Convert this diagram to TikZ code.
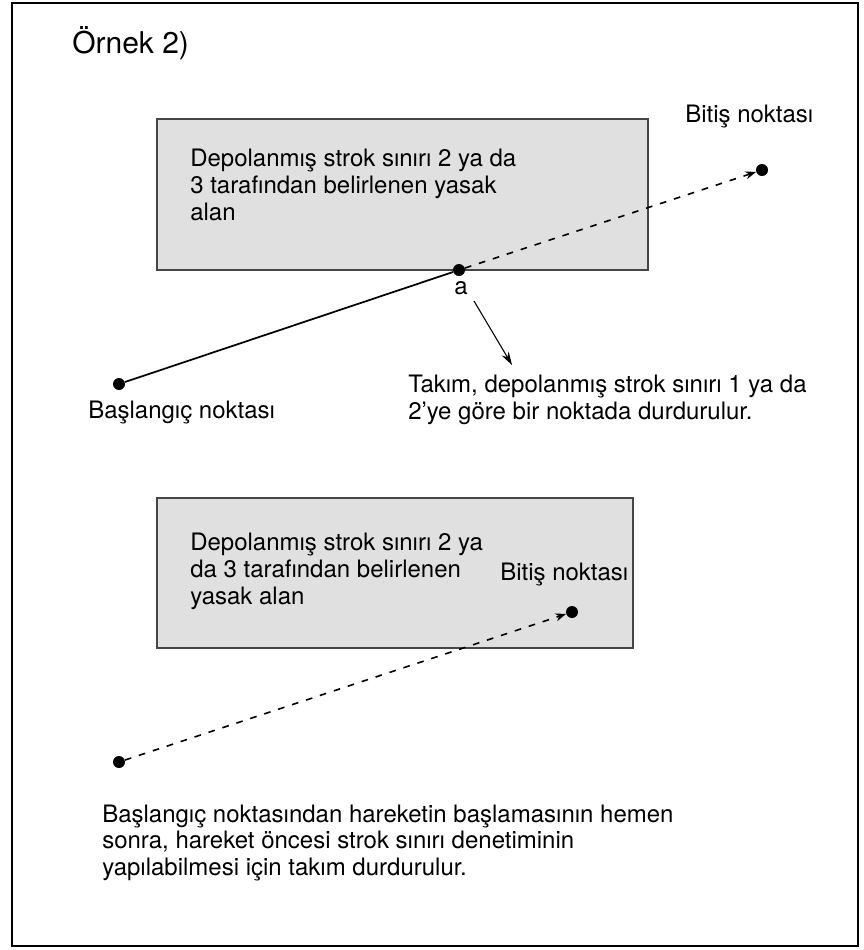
\documentclass[tikz,border=0pt]{standalone}
\usepackage{fontspec}
\setmainfont{TeX Gyre Heros}
\usepackage{xcolor}
\usepackage{tikz}
\usetikzlibrary{positioning, arrows.meta}
\definecolor{zonegray}{RGB}{224,224,224}
\definecolor{edgegray}{RGB}{70,70,70}

\begin{document}
\begin{tikzpicture}[x=0.75pt, y=-0.75pt,
    zone/.style={draw=edgegray, fill=zonegray, line width=1.1pt},
    txt/.style={inner sep=0pt, align=left, anchor=west, font=\fontsize{18}{20.2}\selectfont},
    dot/.style={circle, fill=black, inner sep=0pt, minimum size=9pt},
    cutline/.style={line width=1.3pt},
    move/.style={line width=1.2pt, dash pattern=on 5pt off 6pt, -{Stealth[length=8pt, width=6pt]}},
    pointer/.style={line width=0.8pt, -{Stealth[length=10pt, width=6pt]}}]
    \useasboundingbox (0,0) rectangle (864,950);

    % Frame and title
    \draw[line width=1.9pt] (12,3) rectangle (858,946);
    \node[txt, font=\fontsize{22.5}{26}\selectfont] (title) at (72,43) {Örnek 2)};

    % Forbidden areas
    \draw[zone] (157,119) rectangle (648,270);
    \draw[zone] (157,498) rectangle (633,648);
    \node[txt] (areaA) at (190,185) {Depolanmış strok sınırı 2 ya da\\3 tarafından belirlenen yasak\\alan};
    \node[txt] (areaB) at (190,571) {Depolanmış strok sınırı 2 ya\\da 3 tarafından belirlenen\\yasak alan};

    % First move
    \node[dot] (startA) at (119,384) {};
    \node[dot] (a) at (459,270) {};
    \node[dot] (endA) at (762,170) {};
    \draw[cutline] (startA) -- (a);
    \draw[move] (a) -- (endA);
    \node[txt] (startAlbl) at (88,413) {Başlangıç noktası};
    \node[txt] (endAlbl) at (685,117) {Bitiş noktası};
    \node[txt, anchor=center] (albl) at (461,288) {a};

    % Stop note
    \coordinate (ptrTail) at (474,301);
    \coordinate (ptrHead) at (512,365);
    \draw[pointer] (ptrTail) -- (ptrHead);
    \node[txt] (stopnote) at (408,400) {Takım, depolanmış strok sınırı 1 ya da\\2’ye göre bir noktada durdurulur.};

    % Second move
    \node[dot] (startB) at (119,762) {};
    \node[dot] (endB) at (572,612) {};
    \draw[move] (startB) -- (endB);
    \node[txt] (endBlbl) at (500,575) {Bitiş noktası};

    % Bottom note
    \node[txt] (checknote) at (102,843) {Başlangıç noktasından hareketin başlamasının hemen\\sonra, hareket öncesi strok sınırı denetiminin\\yapılabilmesi için takım durdurulur.};
\end{tikzpicture}
\end{document}
